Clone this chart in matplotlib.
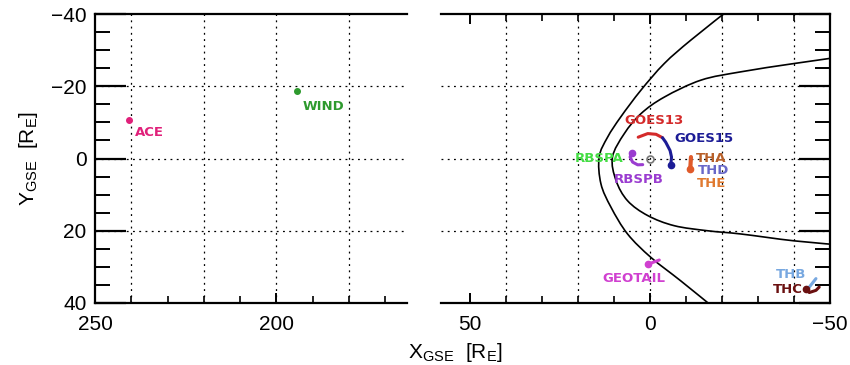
import numpy as np
import matplotlib
matplotlib.use("Agg")
import matplotlib.pyplot as plt
from matplotlib.path import Path
from matplotlib.patches import PathPatch

plt.rcParams['font.family'] = ['Liberation Sans', 'DejaVu Sans']
plt.rcParams['mathtext.default'] = 'regular'

# --- spacecraft positions (GSE, R_E) ---
ACE_X, ACE_Y = [240.6], [-10.6]
WIND_X, WIND_Y = [194.3], [-18.6]

GOES13_X = [3.25, 0.6, -1.7, -3.5]
GOES13_Y = [-5.9, -6.9, -6.7, -5.75]
GOES15_X = [-3.5, -4.4, -5.6, -6.0, -5.8]
GOES15_Y = [-5.75, -4.5, -2.2, -0.4, 1.7]
RBSPB_X = [5.1, 5.5, 4.8, 3.4, 2.0]
RBSPB_Y = [-1.5, -0.4, 1.0, 1.75, 1.7]
THA_X = [-11.4, -11.2]
THA_Y = [-0.4, 2.9]
GEOTAIL_X = [0.6, -2.6]
GEOTAIL_Y = [29.3, 28.1]
THB_X = [-46.1, -44.0]
THB_Y = [33.25, 35.9]
THC_X = [-43.3, -44.25, -46.1, -47.0]
THC_Y = [36.2, 37.1, 36.5, 35.6]

# --- boundaries ---
BOW_X = [-23.0, -11.4, -4.0, 2.5, 8.1, 11.75, 14.1, 13.6, 10.8, 6.2, -0.3, -8.6, -18.0]
BOW_Y = [-42.0, -32.8, -26.3, -18.9, -11.5, -5.9, -0.4, 7.0, 13.5, 20.9, 27.4, 33.9, 41.5]
MP_X = [-55.0, -40.1, -25.3, -14.2, -4.0, 2.5, 7.1, 10.4, 9.4, 6.2, 0.6, -6.75, -16.0, -25.3, -40.1, -55.0]
MP_Y = [-28.4, -26.3, -24.0, -21.7, -17.0, -12.4, -6.9, -0.4, 6.1, 11.7, 15.8, 18.6, 20.0, 20.9, 22.8, 24.1]

COLORS = {
    'ACE': '#e0207a', 'WIND': '#2e9a2e', 'GOES13': '#d42a2a', 'GOES15': '#1c1c96',
    'RBSPA': '#44dd44', 'RBSPB': '#9a3cd0', 'THA': '#b8602a', 'THD': '#6868c8',
    'THE': '#e07a30', 'GEOTAIL': '#d040d0', 'THB': '#78a8e0', 'THC': '#6a1010',
    'trace_th': '#e05a2a',
}

# label placement (x, y, ha)
LABELS_LEFT = {'ACE': (239.0, -7.1, 'left'), 'WIND': (192.9, -14.3, 'left')}
LABELS_RIGHT = {
    'GOES13': (-1.0, -10.4, 'center'), 'GOES15': (-6.75, -5.5, 'left'),
    'RBSPA': (7.2, 0.0, 'right'), 'RBSPB': (3.0, 5.8, 'center'),
    'THA': (-12.8, 0.1, 'left'), 'THD': (-13.4, 3.3, 'left'), 'THE': (-13.1, 7.0, 'left'),
    'GEOTAIL': (4.4, 33.2, 'center'), 'THB': (-39.2, 32.0, 'center'),
    'THC': (-38.25, 36.4, 'center'),
}

GRID_X_LEFT = [240, 220, 200, 180]
GRID_X_RIGHT = [40, 20, 0, -20, -40]
GRID_Y = [-20, 0, 20]


def smooth_path(xs, ys):
    """Catmull-Rom curve through the given points, as cubic Bezier segments."""
    p = np.column_stack([xs, ys])
    verts = [p[0]]
    codes = [Path.MOVETO]
    for i in range(len(p) - 1):
        p0 = p[i - 1] if i > 0 else p[i]
        p3 = p[i + 2] if i + 2 < len(p) else p[i + 1]
        c1 = p[i] + (p[i + 1] - p0) / 6.0
        c2 = p[i + 1] - (p3 - p[i]) / 6.0
        verts += [c1, c2, p[i + 1]]
        codes += [Path.CURVE4] * 3
    return Path(verts, codes)


fig = plt.figure(figsize=(8.5, 3.65), dpi=100)
axL = fig.add_axes([95 / 850, 62 / 365, 312 / 850, 289 / 365])
axR = fig.add_axes([441 / 850, 62 / 365, 389 / 850, 289 / 365])

grid_kw = dict(color='k', lw=0.9, ls=(0, (1.5, 3.5)), zorder=0)
lab_kw = dict(fontsize=9.5, fontweight='bold', family='DejaVu Sans', va='center')

for ax in (axL, axR):
    ax.set_ylim(40, -40)
    for y in GRID_Y:
        ax.axhline(y, **grid_kw)
    for s in ax.spines.values():
        s.set_linewidth(1.6)
    ax.set_yticks([-40, -20, 0, 20, 40])
    ax.set_yticks(np.arange(-40, 41, 5), minor=True)
    ax.tick_params(axis='y', which='major', direction='in', length=22, width=1.6)
    ax.tick_params(axis='y', which='minor', direction='in', length=11, width=1.4)
    ax.tick_params(axis='x', which='major', direction='in', length=7, width=1.4,
                   labelsize=15, pad=9)
    ax.tick_params(axis='x', which='minor', direction='in', length=5, width=1.2)

# left panel
axL.set_xlim(250, 164)
axL.spines['right'].set_visible(False)
axL.set_xticks([250, 200])
axL.set_xticks(np.arange(170, 251, 10), minor=True)
axL.set_yticklabels(['\u221240', '\u221220', '0', '20', '40'])
axL.tick_params(axis='y', labelsize=15, pad=6)
for x in GRID_X_LEFT:
    axL.axvline(x, **grid_kw)
axL.plot(ACE_X, ACE_Y, 'o', color=COLORS['ACE'], ms=4)
axL.plot(WIND_X, WIND_Y, 'o', color=COLORS['WIND'], ms=4)
for name, (x, y, ha) in LABELS_LEFT.items():
    axL.text(x, y, name, color=COLORS[name], ha=ha, **lab_kw)
axL.set_ylabel(r'Y$_{GSE}$  [R$_E$]', fontsize=15, labelpad=8)

# right panel
axR.set_xlim(58, -50)
axR.spines['left'].set_visible(False)
axR.set_xticks([50, 0, -50])
axR.set_xticklabels(['50', '0', '\u221250'])
axR.set_xticks(np.arange(-40, 51, 10), minor=True)
axR.tick_params(axis='x', which='both', top=True)
axR.tick_params(axis='y', which='both', left=False, right=True, labelleft=False)
for x in GRID_X_RIGHT:
    axR.axvline(x, **grid_kw)

for bx, by in ((BOW_X, BOW_Y), (MP_X, MP_Y)):
    axR.add_patch(PathPatch(smooth_path(bx, by), fill=False, ec='k', lw=1.2))

tr_kw = dict(lw=2.2, solid_capstyle='round')
axR.plot(GOES13_X, GOES13_Y, color=COLORS['GOES13'], **tr_kw)
axR.plot(GOES15_X, GOES15_Y, color=COLORS['GOES15'], **tr_kw)
axR.plot(GOES15_X[-1:], GOES15_Y[-1:], 'o', color=COLORS['GOES15'], ms=4.5)
axR.plot(RBSPB_X, RBSPB_Y, color=COLORS['RBSPB'], **tr_kw)
axR.plot(RBSPB_X[:1], RBSPB_Y[:1], 'o', color=COLORS['RBSPB'], ms=4.5)
axR.plot(THA_X, THA_Y, color=COLORS['trace_th'], lw=3, solid_capstyle='round')
axR.plot(THA_X[-1:], THA_Y[-1:], 'o', color=COLORS['trace_th'], ms=4.5)
axR.plot(GEOTAIL_X, GEOTAIL_Y, color=COLORS['GEOTAIL'], **tr_kw)
axR.plot(GEOTAIL_X[:1], GEOTAIL_Y[:1], 'o', color=COLORS['GEOTAIL'], ms=4.5)
axR.plot(THB_X, THB_Y, color=COLORS['THB'], **tr_kw)
axR.plot(THC_X, THC_Y, color=COLORS['THC'], **tr_kw)
axR.plot(THC_X[:1], THC_Y[:1], 'o', color=COLORS['THC'], ms=4.5)
axR.plot([0], [0], 'o', mfc='none', mec='#777777', ms=5, mew=1.2)

for name, (x, y, ha) in LABELS_RIGHT.items():
    axR.text(x, y, name, color=COLORS[name], ha=ha, **lab_kw)

fig.text(455 / 850, 13 / 365, r'X$_{GSE}$  [R$_E$]', fontsize=15, ha='center', va='center')

fig.savefig('out.png', dpi=100)
